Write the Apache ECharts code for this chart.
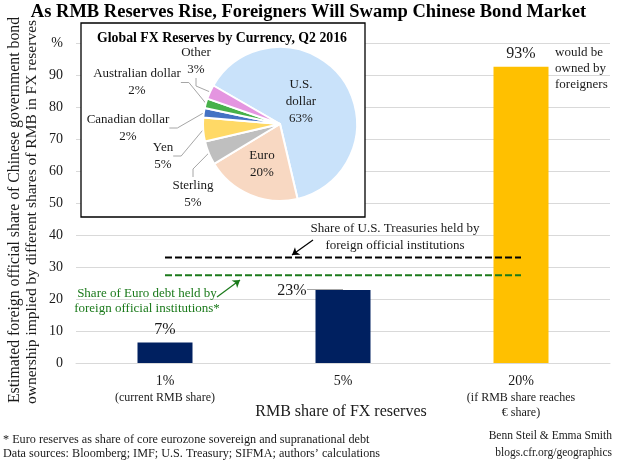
<!DOCTYPE html>
<html><head><meta charset="utf-8">
<script src="https://cdn.jsdelivr.net/npm/echarts@6/dist/echarts.min.js"></script>
<style>html,body{margin:0;padding:0;background:#fff}#c{width:617px;height:462px}</style>
</head><body><div id="c"></div>
<script>
// ---- data ----
const categories = ['1%', '5%', '20%'];
const categoryNotes = ['(current RMB share)', '', '(if RMB share reaches\n€ share)'];
const foreignShare = [6.4, 22.8, 92.6];
const foreignShareLabels = ['7%', '23%', '93%'];
const usTreasuryForeignShare = [33, 33, 33];
const euroDebtForeignShare = [27.4, 27.4, 27.4];
const yMin = 0, yMax = 100, yStep = 10;
const pieCurrencies = ['U.S.\ndollar', 'Euro', 'Sterling', 'Yen', 'Canadian dollar', 'Australian dollar', 'Other'];
const pieShares = [63, 20, 5, 5, 2, 2, 3];

// ---- styling / layout ----
const FONT = "'Liberation Serif', 'Times New Roman', serif";
const barColors = ['#002060', '#002060', '#ffc000'];
const pieColors = ['#c9e2fa', '#f8d8c2', '#bfbfbf', '#ffd966', '#4472c4', '#47b14a', '#e495e0'];
const pieLabelPos = [[301, 102], [262, 164.5], [193, 194], [163, 156], [128, 128], [137, 82.5], [196, 61]];
const GREEN = '#1b7a1b';
const TXT = '#1a1a1a';

const chart = echarts.init(document.getElementById('c'), null, {renderer: 'canvas'});

const barData = foreignShare.map((v, i) => ({
  value: v,
  itemStyle: {color: barColors[i]}
}));

const pieData = pieShares.map((v, i) => ({
  name: pieCurrencies[i],
  value: v,
  itemStyle: {color: pieColors[i]},
  labelLine: {show: i > 1}
}));

chart.setOption({
  animation: false,
  backgroundColor: '#fff',
  textStyle: {fontFamily: FONT},
  title: [
    {text: 'As RMB Reserves Rise, Foreigners Will Swamp Chinese Bond Market', left: 'center', top: -2,
     textStyle: {fontFamily: FONT, fontSize: 18.5, fontWeight: 'bold', color: '#000'}},
    {text: 'Global FX Reserves by Currency, Q2 2016', left: 217, top: 26, textAlign: 'center',
     textStyle: {fontFamily: FONT, fontSize: 13.8, fontWeight: 'bold', color: '#000'}, z: 5}
  ],
  grid: {left: 76, right: 7, top: 43, bottom: 99, containLabel: false},
  xAxis: {
    type: 'category', data: categories,
    axisLine: {lineStyle: {color: '#d9d9d9', width: 1}},
    axisTick: {show: false},
    axisLabel: {
      margin: 10,
      formatter: (v, i) => categoryNotes[i] ? '{a|' + v + '}\n{b|' + categoryNotes[i].split('\n').join('}\n{b|') + '}' : '{a|' + v + '}',
      rich: {
        a: {fontFamily: FONT, fontSize: 14, lineHeight: 17, color: TXT},
        b: {fontFamily: FONT, fontSize: 12, lineHeight: 15, color: TXT}
      }
    }
  },
  yAxis: {
    type: 'value', min: yMin, max: yMax, interval: yStep,
    axisLine: {show: false}, axisTick: {show: false},
    axisLabel: {margin: 13, fontFamily: FONT, fontSize: 14, color: TXT,
      formatter: v => v === yMax ? '%' : String(v)},
    splitLine: {lineStyle: {color: '#d9d9d9', width: 1}}
  },
  series: [
    {
      type: 'bar', data: barData, barWidth: 55, z: 2,
      label: {show: true, position: 'top', distance: 5, fontFamily: FONT, fontSize: 16, color: TXT,
        formatter: p => foreignShareLabels[p.dataIndex]},
      labelLayout: p => p.dataIndex === 1 ? {dx: -51, dy: 14} : {},
      markLine: {silent: true, symbol: ['none', 'none'], label: {show: false},
        lineStyle: {color: '#a6a6a6', width: 1, type: 'solid'},
        data: [[{x: 307, y: 289}, {x: 343, y: 289}]]}
    },
    {
      type: 'line', data: usTreasuryForeignShare, symbol: 'none', z: 4,
      lineStyle: {color: '#000', width: 2, type: [7, 3]},
      markLine: {silent: true, symbol: ['none', 'arrow'], symbolSize: 7, label: {show: false},
        lineStyle: {color: '#000', width: 1.2, type: 'solid'},
        data: [[{x: 313, y: 240}, {x: 292, y: 255}]]}
    },
    {
      type: 'line', data: euroDebtForeignShare, symbol: 'none', z: 4,
      lineStyle: {color: GREEN, width: 2, type: [7, 3]},
      markLine: {silent: true, symbol: ['none', 'arrow'], symbolSize: 7, label: {show: false},
        lineStyle: {color: GREEN, width: 1.2, type: 'solid'},
        data: [[{x: 217, y: 297}, {x: 240, y: 280}]]}
    },
    {
      type: 'pie', center: [280, 124], radius: 77, startAngle: 150, clockwise: true, z: 5,
      data: pieData,
      itemStyle: {borderColor: '#fff', borderWidth: 2},
      label: {show: true, fontFamily: FONT, fontSize: 13, lineHeight: 17, color: TXT,
        formatter: p => p.name + '\n' + p.value + '%'},
      labelLine: {lineStyle: {color: '#a6a6a6', width: 1}, length: 8, length2: 8},
      labelLayout: p => ({x: pieLabelPos[p.dataIndex][0], y: pieLabelPos[p.dataIndex][1], align: 'center', verticalAlign: 'middle'}),
      emphasis: {disabled: true}
    }
  ],
  graphic: [
    {type: 'rect', z: 1, shape: {x: 81, y: 23, width: 284, height: 194},
     style: {fill: '#fff', stroke: '#000', lineWidth: 1.3}},
    {type: 'text', x: 15, y: 210, rotation: Math.PI / 2, z: 5,
     style: {text: 'Estimated foreign official share of Chinese government bond', font: '15.8px ' + FONT, fill: TXT, align: 'center', verticalAlign: 'middle'}},
    {type: 'text', x: 32, y: 212, rotation: Math.PI / 2, z: 5,
     style: {text: 'ownership implied by different shares of RMB in FX reserves', font: '15.5px ' + FONT, fill: TXT, align: 'center', verticalAlign: 'middle'}},
    {type: 'text', x: 395, y: 237, z: 5,
     style: {text: 'Share of U.S. Treasuries held by\nforeign official institutions', font: '13px ' + FONT, lineHeight: 17, fill: TXT, align: 'center', verticalAlign: 'middle'}},
    {type: 'text', x: 147, y: 301, z: 5,
     style: {text: 'Share of Euro debt held by\nforeign official institutions*', font: '13px ' + FONT, lineHeight: 15, fill: GREEN, align: 'center', verticalAlign: 'middle'}},
    {type: 'text', x: 555, y: 68.5, z: 5,
     style: {text: 'would be\nowned by\nforeigners', font: '13px ' + FONT, lineHeight: 16, fill: TXT, align: 'left', verticalAlign: 'middle'}},
    {type: 'text', x: 341, y: 412, z: 5,
     style: {text: 'RMB share of FX reserves', font: '16px ' + FONT, fill: TXT, align: 'center', verticalAlign: 'middle'}},
    {type: 'text', x: 3, y: 447, z: 5,
     style: {text: '* Euro reserves as share of core eurozone sovereign and supranational debt\nData sources: Bloomberg; IMF; U.S. Treasury; SIFMA; authors\u2019 calculations', font: '12.2px ' + FONT, lineHeight: 14, fill: TXT, align: 'left', verticalAlign: 'middle'}},
    {type: 'text', x: 612, y: 444, z: 5,
     style: {text: 'Benn Steil & Emma Smith\nblogs.cfr.org/geographics', font: '11.5px ' + FONT, lineHeight: 17, fill: TXT, align: 'right', verticalAlign: 'middle'}}
  ]
});
</script>
</body></html>
